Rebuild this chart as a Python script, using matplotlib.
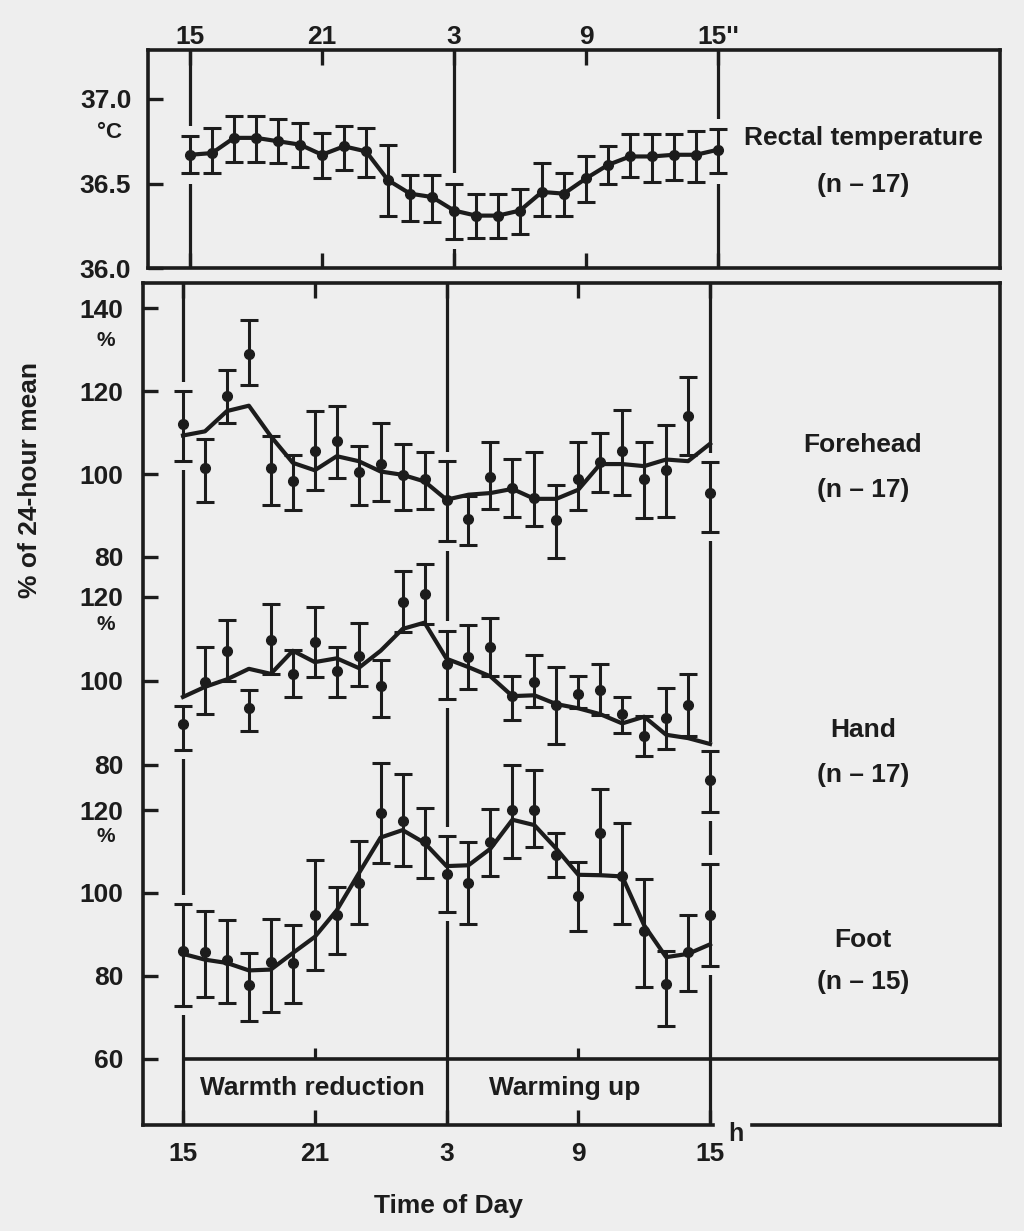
import matplotlib
matplotlib.use("Agg")
import matplotlib.pyplot as plt

plt.rcParams["font.family"] = ["Liberation Sans", "DejaVu Sans"]
plt.rcParams["font.weight"] = "bold"

W, H = 1024, 1231
BG = "#eeeeee"
INK = "#1c1c1c"

HOURS = [0, 1, 2, 3, 4, 5, 6, 7, 8, 9, 10, 11, 12, 13, 14, 15, 16, 17, 18, 19, 20, 21, 22, 23, 24]
TIME_LABELS = ["15", "21", "3", "9", "15"]

# rectal temperature, deg C
temp_mean = [36.67, 36.68, 36.77, 36.77, 36.75, 36.73, 36.67, 36.72, 36.69, 36.52, 36.44, 36.42, 36.34,
             36.31, 36.31, 36.34, 36.45, 36.44, 36.53, 36.61, 36.66, 36.66, 36.67, 36.67, 36.70]
temp_hi = [36.78, 36.83, 36.90, 36.90, 36.88, 36.86, 36.80, 36.84, 36.83, 36.73, 36.55, 36.55, 36.50,
           36.44, 36.44, 36.47, 36.62, 36.56, 36.66, 36.72, 36.79, 36.79, 36.79, 36.81, 36.82]
temp_lo = [36.56, 36.56, 36.63, 36.63, 36.62, 36.60, 36.53, 36.58, 36.54, 36.31, 36.28, 36.27, 36.17,
           36.18, 36.18, 36.20, 36.31, 36.31, 36.39, 36.50, 36.54, 36.51, 36.52, 36.51, 36.56]

# skin temperatures, % of 24-hour mean
forehead_mean = [112.1, 101.5, 118.8, 129.1, 101.5, 98.2, 105.5, 107.9, 100.4, 102.4, 99.8, 98.8, 93.8,
                 89.1, 99.2, 96.6, 94.2, 89.0, 98.8, 102.8, 105.5, 98.8, 101.0, 114.1, 95.4]
forehead_hi = [120.0, 108.5, 125.2, 137.2, 109.1, 104.7, 115.3, 116.5, 106.7, 112.2, 107.3, 105.3, 103.1,
               94.6, 107.7, 103.7, 105.4, 97.3, 107.7, 109.9, 115.4, 107.7, 111.8, 123.4, 102.8]
forehead_lo = [103.1, 93.2, 112.3, 121.5, 92.6, 91.4, 96.2, 99.0, 92.4, 93.4, 91.4, 91.5, 83.7,
               82.9, 91.5, 89.6, 87.5, 79.7, 91.4, 95.6, 95.0, 89.4, 89.5, 104.7, 86.1]
forehead_trend = [109.3, 110.3, 115.2, 116.5, 109.1, 102.7, 100.9, 104.3, 103.1, 100.6, 99.8, 98.2, 93.8,
                  95.0, 95.4, 96.4, 94.0, 94.0, 96.2, 102.4, 102.4, 101.9, 103.5, 103.1, 107.3]

hand_mean = [89.7, 99.8, 107.2, 93.6, 109.8, 101.7, 109.2, 102.5, 105.9, 98.7, 118.7, 120.6, 104.1,
             105.8, 108.2, 96.4, 99.8, 94.3, 97.0, 97.8, 92.1, 86.9, 91.1, 94.3, 76.4]
hand_hi = [94.0, 108.0, 114.5, 97.9, 118.3, 107.4, 117.6, 108.0, 113.7, 105.0, 126.1, 127.9, 112.0,
           113.3, 115.0, 101.3, 106.1, 103.3, 101.1, 104.1, 96.2, 91.7, 98.4, 101.7, 83.3]
hand_lo = [83.6, 92.1, 100.1, 88.0, 101.7, 96.1, 100.9, 96.2, 98.7, 91.5, 111.6, 113.5, 95.8,
           98.0, 101.3, 90.7, 93.9, 85.0, 93.5, 91.9, 87.7, 82.2, 83.8, 86.8, 68.8]
hand_trend = [96.2, 98.6, 100.4, 102.9, 101.7, 107.2, 104.5, 105.4, 103.1, 107.2, 112.4, 113.9, 105.3,
              103.3, 101.1, 96.4, 96.6, 94.5, 93.5, 92.1, 89.9, 91.5, 87.2, 86.4, 85.0]

foot_mean = [85.9, 85.7, 83.7, 77.7, 83.3, 83.1, 94.6, 94.6, 102.3, 119.4, 117.4, 112.6, 104.7,
             102.4, 112.3, 120.0, 120.0, 109.1, 99.2, 114.4, 104.0, 90.8, 77.9, 85.7, 94.6]
foot_hi = [97.4, 95.6, 93.4, 85.5, 93.8, 92.2, 107.9, 101.5, 112.5, 131.5, 128.7, 120.6, 113.8,
           112.3, 120.2, 130.9, 129.7, 114.5, 107.5, 125.2, 116.9, 103.5, 86.1, 94.6, 106.9]
foot_lo = [72.8, 74.8, 73.4, 69.2, 71.2, 73.4, 81.5, 85.2, 92.4, 107.3, 106.5, 103.7, 95.4,
           92.6, 104.0, 108.5, 111.1, 103.9, 90.8, 104.3, 92.4, 77.4, 67.8, 76.3, 82.3]
foot_trend = [85.3, 83.9, 83.1, 81.3, 81.5, 85.5, 89.4, 95.8, 104.7, 113.4, 115.2, 112.1, 106.5,
              106.7, 110.7, 117.7, 116.4, 110.7, 104.4, 104.3, 104.0, 92.2, 84.5, 85.3, 87.6]

TICK_SIZE = 19
LINE_W = 3.0
BAR_W = 2.2
SPINE_W = 2.6


def rect(x0, y0, x1, y1):
    return [x0 / W, 1 - y1 / H, (x1 - x0) / W, (y1 - y0) / H]


def draw_points(ax, mean, hi, lo, pad):
    # background-coloured underlay breaks the hour guide lines where the bars cross them
    ax.vlines(HOURS, [l - pad for l in lo], [h + pad for h in hi], color=BG, lw=10, zorder=2)
    yerr = [[m - l for m, l in zip(mean, lo)], [h - m for m, h in zip(mean, hi)]]
    ax.errorbar(HOURS, mean, yerr=yerr, fmt="o", color=INK, ms=7, elinewidth=BAR_W,
                capsize=6.5, capthick=BAR_W, clip_on=False, zorder=4)


fig = plt.figure(figsize=(W / 100, H / 100), dpi=100, facecolor=BG)

# --- rectal temperature panel ---
ax_t = fig.add_axes(rect(148, 50, 1000, 268))
ax_t.set_facecolor("none")
ax_t.set_xlim((148 - 190) / 22.0, (1000 - 190) / 22.0)
ax_t.set_ylim(36.0, 37.0 + (99 - 50) / 169)
for s in ax_t.spines.values():
    s.set_linewidth(SPINE_W)
    s.set_color(INK)
ax_t.set_yticks([36.0, 36.5, 37.0], ["36.0", "36.5", "37.0"])
ax_t.set_xticks([0, 6, 12, 18, 24], ["15", "21", "3", "9", "15''"])
ax_t.tick_params(axis="both", direction="in", length=11, width=2.4, color=INK,
                 labelsize=TICK_SIZE, labelcolor=INK)
ax_t.tick_params(axis="y", pad=12)
ax_t.tick_params(axis="x", top=True, bottom=True, labeltop=True, labelbottom=False, pad=1)
for h in [0, 12, 24]:
    ax_t.axvline(h, color=INK, lw=2.3, zorder=1)
ax_t.plot(HOURS, temp_mean, color=INK, lw=LINE_W, zorder=3)
draw_points(ax_t, temp_mean, temp_hi, temp_lo, pad=0.06)

# --- lower frame ---
lx0, lx1 = (143 - 183) / 21.96, (1000 - 183) / 21.96
ax_f = fig.add_axes(rect(143, 283, 1000, 1125))
ax_f.set_facecolor("none")
ax_f.set_xlim(lx0, lx1)
ax_f.set_ylim(0, 1)
for name, s in ax_f.spines.items():
    s.set_linewidth(SPINE_W)
    s.set_color(INK)
ax_f.spines["bottom"].set_visible(False)
ax_f.set_yticks([])
ax_f.set_xticks([0, 6, 12, 18, 24], TIME_LABELS)
ax_f.tick_params(axis="x", direction="in", length=11, width=2.4, color=INK, top=True,
                 labelsize=TICK_SIZE, labelcolor=INK, pad=12)
xt = ax_f.get_xaxis_transform()
ax_f.plot([lx0, 24.15], [0, 0], transform=xt, color=INK, lw=SPINE_W, clip_on=False)
ax_f.plot([25.9, lx1], [0, 0], transform=xt, color=INK, lw=SPINE_W, clip_on=False)
for h in [0, 12, 24]:
    ax_f.axvline(h, color=INK, lw=2.3, zorder=1)


def series_axes(y100, k, ticks):
    ax = fig.add_axes(rect(143, 283, 1000, 1125))
    ax.set_facecolor("none")
    ax.set_xlim(lx0, lx1)
    ax.set_ylim(100 - (1125 - y100) / k, 100 + (y100 - 283) / k)
    for s in ax.spines.values():
        s.set_visible(False)
    ax.set_xticks([])
    ax.set_yticks(ticks, [str(t) for t in ticks])
    ax.tick_params(axis="y", direction="in", length=11, width=2.4, color=INK,
                   labelsize=TICK_SIZE, labelcolor=INK, pad=14)
    return ax


ax_fh = series_axes(474, 4.14, [80, 100, 120, 140])
ax_fh.plot(HOURS, forehead_trend, color=INK, lw=LINE_W, zorder=3)
draw_points(ax_fh, forehead_mean, forehead_hi, forehead_lo, pad=2.2)

ax_hd = series_axes(681, 4.2, [80, 100, 120])
ax_hd.plot(HOURS, hand_trend, color=INK, lw=LINE_W, zorder=3)
draw_points(ax_hd, hand_mean, hand_hi, hand_lo, pad=2.2)

ax_ft = series_axes(893, 4.14, [60, 80, 100, 120])
ax_ft.plot(HOURS, foot_trend, color=INK, lw=LINE_W, zorder=3)
draw_points(ax_ft, foot_mean, foot_hi, foot_lo, pad=2.2)
ax_ft.hlines(60, 0, lx1, color=INK, lw=SPINE_W)
ax_ft.vlines([6, 18], 60, 62.5, color=INK, lw=2.3)


# --- texts ---
def ftext(x, y, s, **kw):
    kw.setdefault("fontsize", 18)
    kw.setdefault("ha", "center")
    kw.setdefault("va", "center")
    fig.text(x / W, 1 - y / H, s, color=INK, **kw)


ftext(110, 133, "°C", fontsize=16)
for y in [340, 624, 836]:
    ftext(106, y, "%", fontsize=15)
ftext(736, 1134, "h", fontsize=18)
ftext(863, 138, "Rectal temperature", fontsize=19)
ftext(863, 185, "(n – 17)", fontsize=19)
ftext(863, 445, "Forehead", fontsize=19)
ftext(863, 490, "(n – 17)", fontsize=19)
ftext(863, 730, "Hand", fontsize=19)
ftext(863, 775, "(n – 17)", fontsize=19)
ftext(863, 940, "Foot", fontsize=19)
ftext(863, 982, "(n – 15)", fontsize=19)
ftext(312, 1088, "Warmth reduction", fontsize=19)
ftext(565, 1088, "Warming up", fontsize=19)
ftext(448, 1206, "Time of Day", fontsize=19)
ftext(30, 480, "% of 24-hour mean", fontsize=19, rotation=90)

fig.savefig("out.png", dpi=100, facecolor=BG)
